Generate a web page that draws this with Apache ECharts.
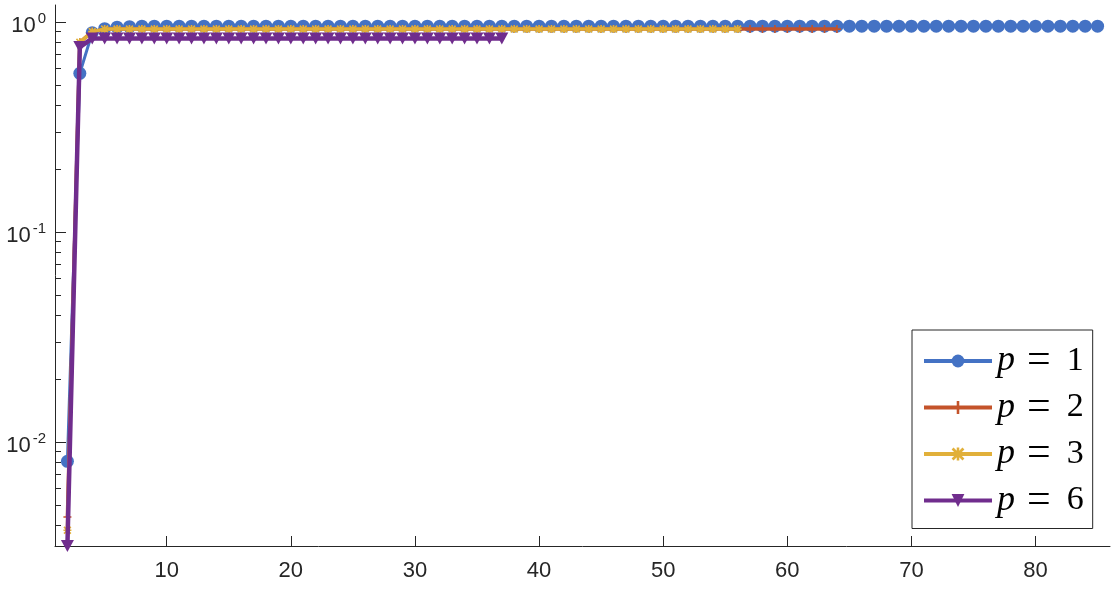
<!DOCTYPE html>
<html>
<head>
<meta charset="utf-8">
<script src="https://cdn.jsdelivr.net/npm/echarts@6/dist/echarts.min.js"></script>
<style>
html, body { margin: 0; padding: 0; background: #fff; }
#chart { width: 1117px; height: 596px; }
</style>
</head>
<body>
<div id="chart"></div>
<script>
// x ticks and y ticks (log axis)
const xTicks = [10, 20, 30, 40, 50, 60, 70, 80]
const yMajorTicks = [0.01, 0.1, 1]
const yMinorTicks = [0.004, 0.005, 0.006, 0.007, 0.008, 0.009,
  0.02, 0.03, 0.04, 0.05, 0.06, 0.07, 0.08, 0.09,
  0.2, 0.3, 0.4, 0.5, 0.6, 0.7, 0.8, 0.9]

const seriesNames = ['p = 1', 'p = 2', 'p = 3', 'p = 6']
// every series starts at x = 2
const xStart = 2

const p1 = [0.0081, 0.57, 0.89, 0.93, 0.945, 0.95,
  0.955, 0.955, 0.955, 0.955, 0.955, 0.955, 0.955, 0.955, 0.955, 0.955,
  0.955, 0.955, 0.955, 0.955, 0.955, 0.955, 0.955, 0.955, 0.955, 0.955,
  0.955, 0.955, 0.955, 0.955, 0.955, 0.955, 0.955, 0.955, 0.955, 0.955,
  0.955, 0.955, 0.955, 0.955, 0.955, 0.955, 0.955, 0.955, 0.955, 0.955,
  0.955, 0.955, 0.955, 0.955, 0.955, 0.955, 0.955, 0.955, 0.955, 0.955,
  0.955, 0.955, 0.955, 0.955, 0.955, 0.955, 0.955, 0.955, 0.955, 0.955,
  0.955, 0.955, 0.955, 0.955, 0.955, 0.955, 0.955, 0.955, 0.955, 0.955,
  0.955, 0.955, 0.955, 0.955, 0.955, 0.955, 0.955, 0.955]

const p2 = [0.0044, 0.80, 0.90,
  0.925, 0.925, 0.925, 0.925, 0.925, 0.925, 0.925, 0.925, 0.925, 0.925,
  0.925, 0.925, 0.925, 0.925, 0.925, 0.925, 0.925, 0.925, 0.925, 0.925,
  0.925, 0.925, 0.925, 0.925, 0.925, 0.925, 0.925, 0.925, 0.925, 0.925,
  0.925, 0.925, 0.925, 0.925, 0.925, 0.925, 0.925, 0.925, 0.925, 0.925,
  0.925, 0.925, 0.925, 0.925, 0.925, 0.925, 0.925, 0.925, 0.925, 0.925,
  0.925, 0.925, 0.925, 0.925, 0.925, 0.925, 0.925, 0.925, 0.925, 0.925]

const p3 = [0.0038, 0.80, 0.90,
  0.925, 0.925, 0.925, 0.925, 0.925, 0.925, 0.925, 0.925, 0.925, 0.925,
  0.925, 0.925, 0.925, 0.925, 0.925, 0.925, 0.925, 0.925, 0.925, 0.925,
  0.925, 0.925, 0.925, 0.925, 0.925, 0.925, 0.925, 0.925, 0.925, 0.925,
  0.925, 0.925, 0.925, 0.925, 0.925, 0.925, 0.925, 0.925, 0.925, 0.925,
  0.925, 0.925, 0.925, 0.925, 0.925, 0.925, 0.925, 0.925, 0.925, 0.925,
  0.925, 0.925]

const p6 = [0.0032, 0.76,
  0.835, 0.835, 0.835, 0.835, 0.835, 0.835, 0.835, 0.835, 0.835, 0.835,
  0.835, 0.835, 0.835, 0.835, 0.835, 0.835, 0.835, 0.835, 0.835, 0.835,
  0.835, 0.835, 0.835, 0.835, 0.835, 0.835, 0.835, 0.835, 0.835, 0.835,
  0.835, 0.835, 0.835, 0.835]

const colors = ['#4472C4', '#C4532A', '#E1B03A', '#702D8D']
const plusPath = 'path://M4,0H6V4H10V6H6V10H4V6H0V4H4Z'
const starPath = 'path://M4,0H6V4H10V6H6V10H4V6H0V4H4Z M1.5,0L5,3.5L8.5,0L10,1.5L6.5,5L10,8.5L8.5,10L5,6.5L1.5,10L0,8.5L3.5,5L0,1.5Z'

function toPairs (arr) {
  return arr.map((v, i) => [xStart + i, v])
}

const axisColor = '#262626'
const labelFont = 'Liberation Sans'

const chart = echarts.init(document.getElementById('chart'))

const option = {
  animation: false,
  grid: {
    left: 55,
    right: 7,
    top: 5,
    bottom: 50,
    containLabel: false,
    outerBoundsMode: 'none',
  },
  xAxis: {
    type: 'value',
    min: 1,
    max: 86,
    axisLine: { show: true, onZero: false, lineStyle: { color: axisColor, width: 1 } },
    axisTick: { show: true, inside: true, length: 10, customValues: xTicks, lineStyle: { color: axisColor } },
    axisLabel: {
      customValues: xTicks,
      color: axisColor,
      fontSize: 22,
      fontFamily: labelFont,
      margin: 14,
    },
    splitLine: { show: false },
  },
  yAxis: [
    {
      type: 'log',
      logBase: 10,
      min: 0.0032,
      max: 1.205,
      axisLine: { show: true, lineStyle: { color: axisColor, width: 1 } },
      axisTick: { show: true, inside: true, length: 11, customValues: yMajorTicks, lineStyle: { color: axisColor } },
      axisLabel: {
        customValues: yMajorTicks,
        margin: 9,
        formatter: function (v) {
          const e = Math.round(Math.log10(v))
          return '{b|10}{s|' + e + '}'
        },
        rich: {
          b: { fontSize: 22, fontFamily: labelFont, color: axisColor, lineHeight: 22, padding: [8, 0, 0, 0] },
          s: { fontSize: 15, fontFamily: labelFont, color: axisColor, lineHeight: 16, verticalAlign: 'top', padding: [0, 0, 0, 2] },
        },
      },
      splitLine: { show: false },
    },
    {
      type: 'log',
      logBase: 10,
      min: 0.0032,
      max: 1.205,
      position: 'left',
      axisLine: { show: false },
      axisTick: { show: true, inside: true, length: 6, customValues: yMinorTicks, lineStyle: { color: axisColor } },
      axisLabel: { show: false },
      splitLine: { show: false },
    },
  ],
  legend: {
    orient: 'vertical',
    left: 912,
    top: 330,
    itemWidth: 68,
    itemHeight: 16,
    itemGap: 4.5,
    padding: [10, 9, 7, 10],
    borderColor: axisColor,
    borderWidth: 1,
    selectedMode: false,
    data: seriesNames,
    lineStyle: { width: 4 },
    formatter: function (name) {
      const n = name.split('=')[1].trim()
      return '{p|p}{e|=}{n|' + n + '}'
    },
    textStyle: {
      lineHeight: 36,
      rich: {
        p: { fontSize: 36, fontFamily: 'Liberation Serif', fontStyle: 'italic', color: '#000', lineHeight: 36 },
        e: { fontSize: 42, fontFamily: 'Liberation Serif', color: '#000', lineHeight: 36, padding: [0, 16, 0, 12] },
        n: { fontSize: 34, fontFamily: 'Liberation Serif', color: '#000', lineHeight: 36 },
      },
    },
  },
  series: [
    {
      name: seriesNames[0],
      type: 'line',
      z: 2,
      data: toPairs(p1),
      symbol: 'circle',
      symbolSize: 13,
      itemStyle: { color: colors[0] },
      lineStyle: { color: colors[0], width: 3 },
    },
    {
      name: seriesNames[1],
      type: 'line',
      z: 3,
      data: toPairs(p2),
      symbol: plusPath,
      symbolSize: 8,
      itemStyle: { color: colors[1] },
      lineStyle: { color: colors[1], width: 3.5 },
    },
    {
      name: seriesNames[2],
      type: 'line',
      z: 4,
      data: toPairs(p3),
      symbol: starPath,
      symbolSize: 8,
      itemStyle: { color: colors[2] },
      lineStyle: { color: colors[2], width: 3.5 },
    },
    {
      name: seriesNames[3],
      type: 'line',
      z: 5,
      data: toPairs(p6),
      symbol: 'triangle',
      symbolRotate: 180,
      symbolSize: [13, 12],
      itemStyle: { color: colors[3] },
      lineStyle: { color: colors[3], width: 4.5 },
    },
  ],
}

chart.setOption(option)
window.onresize = chart.resize
</script>
</body>
</html>
